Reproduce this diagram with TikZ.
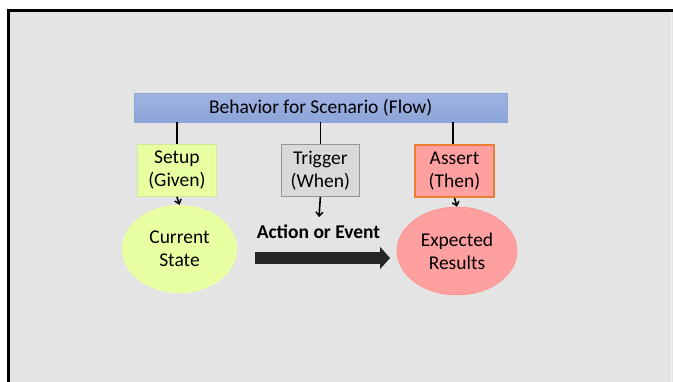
\documentclass[tikz,border=0pt]{standalone}
\usepackage{fontspec}
\setmainfont{Carlito}
\usetikzlibrary{shapes.geometric,arrows.meta}
\definecolor{pagebg}{RGB}{228,228,228}
\definecolor{pageedge}{RGB}{242,242,242}
\definecolor{barblue}{RGB}{160,180,226}
\definecolor{barblueB}{RGB}{140,164,216}
\definecolor{setupgreen}{RGB}{232,255,162}
\definecolor{setupedge}{RGB}{205,235,150}
\definecolor{trigfill}{RGB}{217,217,217}
\definecolor{trigedge}{RGB}{150,150,150}
\definecolor{assertfill}{RGB}{255,160,160}
\definecolor{assertedge}{RGB}{237,125,49}
\definecolor{arrowdark}{RGB}{38,38,38}
\tikzset{
  lbl/.style={font=\fontsize{19.5}{23}\selectfont, text=black, align=center, inner sep=0pt},
  stagebox/.style={lbl, minimum width=79pt, minimum height=52pt},
  stateoval/.style={lbl, ellipse, inner sep=0pt},
  link/.style={line width=1.6pt, draw=black},
  drop/.style={line width=1.6pt, draw=black, -{Straight Barb[length=4pt,width=7pt,line width=1.4pt]}},
}
\begin{document}
\begin{tikzpicture}[x=1pt,y=-1pt]
  \useasboundingbox (0,0) rectangle (673,382);
  % slide background and frame
  \fill[white] (0,0) rectangle (673,382);
  \fill[pagebg] (8.5,10.5) rectangle (673,382);
  \draw[pageedge, line width=0.8pt] (671.5,12) -- (671.5,382);
  \draw[line width=3pt] (8.5,382) -- (8.5,10.5) -- (673,10.5);

  % title bar
  \node[lbl, minimum width=373pt, minimum height=29pt, top color=barblue, bottom color=barblueB,
        draw=barblueB, line width=0.5pt, anchor=north west] (bar) at (134,93)
        {Behavior for Scenario (Flow)};

  % stage boxes
  \node[stagebox, fill=setupgreen, draw=setupedge, line width=0.8pt, anchor=north west] (setup) at (137,144) {Setup\\(Given)};
  \node[stagebox, fill=trigfill, draw=trigedge, line width=0.8pt, minimum width=78pt, anchor=north west] (trigger) at (281,144) {Trigger\\(When)};
  \node[stagebox, fill=assertfill, draw=assertedge, line width=2pt, anchor=north west] (assert) at (414,144) {Assert\\(Then)};

  % links from the bar
  \draw[link] (setup.north |- bar.south) -- (setup.north);
  \draw[link] (trigger.north |- bar.south) -- (trigger.north);
  \draw[link] (453,122) coordinate (barR) -- (barR |- assert.north);

  % states
  \node[stateoval, fill=setupgreen, minimum width=115pt, minimum height=88pt] (current) at (179.5,249) {Current\\State};
  \node[stateoval, fill=assertfill, draw=assertfill!85!red, line width=0.5pt, minimum width=120pt, minimum height=88pt] (expected) at (457,251) {Expected\\Results};

  \draw[drop] (setup.south) -- (current.north);
  \draw[drop] (assert.south) -- (expected.north);
  \coordinate (trigEnd) at (319,217);
  \draw[drop] (trigger.south) -- (trigEnd);

  % action arrow
  \node[lbl, font=\fontsize{19.5}{23}\selectfont\bfseries] (action) at (318.5,232) {Action or Event};
  \coordinate (shaftStart) at (255,258);
  \coordinate (shaftEnd) at (390,258);
  \draw[arrowdark, line width=12pt, -{Triangle[length=10pt,width=22pt]}] (shaftStart) -- (shaftEnd);
\end{tikzpicture}
\end{document}
